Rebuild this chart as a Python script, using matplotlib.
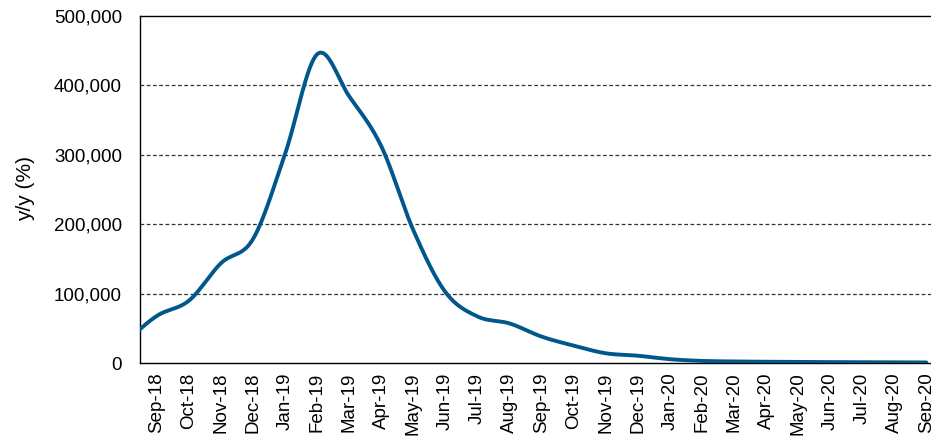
import numpy as np
import matplotlib
matplotlib.use("Agg")
import matplotlib.pyplot as plt
from matplotlib.ticker import FuncFormatter

plt.rcParams['font.family'] = ['Liberation Sans', 'DejaVu Sans']

# monthly data, Aug-18 sits just left of the visible window
months = ['Aug-18', 'Sep-18', 'Oct-18', 'Nov-18', 'Dec-18', 'Jan-19', 'Feb-19',
          'Mar-19', 'Apr-19', 'May-19', 'Jun-19', 'Jul-19', 'Aug-19', 'Sep-19',
          'Oct-19', 'Nov-19', 'Dec-19', 'Jan-20', 'Feb-20', 'Mar-20', 'Apr-20',
          'May-20', 'Jun-20', 'Jul-20', 'Aug-20', 'Sep-20']
values = [30000, 68000, 90000, 144000, 179000, 302000, 445000,
          384000, 312000, 191000, 102000, 67000, 57000, 38000,
          25000, 14000, 10500, 5500, 3000, 2200, 1800,
          1500, 1300, 1100, 1000, 800]


def smooth_line(x, y, steps=30):
    """Catmull-Rom style smoothing, similar to a spreadsheet 'smoothed line'."""
    x = np.asarray(x, float)
    y = np.asarray(y, float)
    px = np.concatenate([[2 * x[0] - x[1]], x, [2 * x[-1] - x[-2]]])
    py = np.concatenate([[2 * y[0] - y[1]], y, [2 * y[-1] - y[-2]]])
    xs, ys = [], []
    t = np.linspace(0, 1, steps, endpoint=False)
    for i in range(1, len(px) - 2):
        for p, out in ((px, xs), (py, ys)):
            p0, p1, p2, p3 = p[i - 1], p[i], p[i + 1], p[i + 2]
            out.append(0.5 * ((2 * p1) + (-p0 + p2) * t
                              + (2 * p0 - 5 * p1 + 4 * p2 - p3) * t ** 2
                              + (-p0 + 3 * p1 - 3 * p2 + p3) * t ** 3))
    xs.append([x[-1]])
    ys.append([y[-1]])
    return np.concatenate(xs), np.concatenate(ys)


pos = np.arange(len(months)) - 1  # Sep-18 at 0

fig = plt.figure(figsize=(9.31, 4.38), dpi=100)
ax = fig.add_axes([140 / 931, 1 - 363 / 438, 795 / 931, 347 / 438])

sx, sy = smooth_line(pos, values)
ax.plot(sx, sy, color='#00578C', lw=2.8, solid_capstyle='round', zorder=3)

ax.set_yticks(np.arange(0, 500001, 100000))
ax.yaxis.set_major_formatter(FuncFormatter(lambda v, _: f"{int(v):,}"))
ax.set_xticks(pos)
ax.set_xticklabels(months, rotation=90)
ax.set_xlim(-0.53, 24.27)
ax.set_ylim(0, 500000)
ax.tick_params(axis='both', length=0, labelsize=13.5)
ax.tick_params(axis='y', pad=13)
ax.tick_params(axis='x', pad=7)

for v in range(100000, 500000, 100000):
    ax.axhline(v, color='#333333', lw=0.9, ls=(0, (3, 2)), zorder=1)

for side in ('left', 'top', 'bottom'):
    ax.spines[side].set_color('black')
    ax.spines[side].set_linewidth(1.0)
ax.spines['right'].set_visible(False)

fig.text(26 / 931, 1 - 189 / 438, 'y/y (%)', rotation=90,
         ha='center', va='center', fontsize=15)

fig.savefig('out.png', dpi=100)
